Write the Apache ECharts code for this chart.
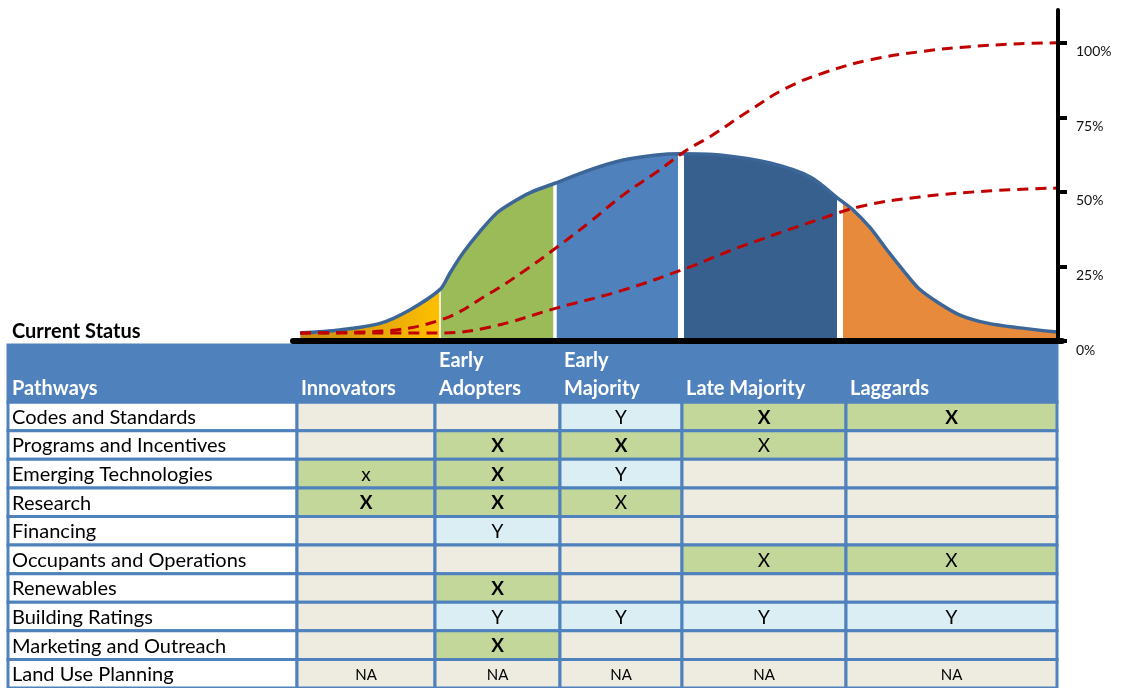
<!DOCTYPE html>
<html>
<head>
<meta charset="utf-8">
<script src="https://cdn.jsdelivr.net/npm/echarts@6/dist/echarts.min.js"></script>
<style>
  html, body { margin: 0; padding: 0; background: #fff; }
  #chart { width: 1122px; height: 688px; }
</style>
</head>
<body>
<div id="chart"></div>
<script>
// ---- Adoption curve: share of adopters along the timeline (x 0–100) ----
const adoptionCurve = [
  [0.3, 2.7], [5.5, 3.7], [10.8, 5.9], [14.7, 10.4], [18.7, 17.3],
  [20.0, 22.8], [21.7, 29.5], [23.9, 36.6], [26.2, 43.0], [28.3, 46.6],
  [30.5, 49.7], [33.8, 52.9], [38.4, 57.4], [42.8, 60.7], [47.2, 62.4],
  [50.3, 62.8], [55.5, 62.4], [62.1, 59.7], [67.4, 55.0], [71.3, 47.3],
  [73.0, 44.0], [75.3, 37.9], [77.5, 30.5], [79.6, 23.8], [81.6, 17.8],
  [84.1, 13.1], [87.1, 8.7], [90.7, 6.0], [95.0, 4.4], [99.9, 3.0]
];
// Where one adopter group hands over to the next
const groupBounds = [18.7, 33.8, 50.3, 71.3];
const groupNames = ['Innovators', 'Early Adopters', 'Early Majority', 'Late Majority', 'Laggards'];

// Cumulative adoption (%): full market and current status
const cumulativeFull = [
  [0.3, 2.7], [9.5, 3.1], [18.7, 7.0], [25.3, 16.1], [29.6, 23.2],
  [34.1, 31.5], [38.4, 39.9], [42.8, 49.0], [47.2, 56.7], [51.2, 64.1],
  [54.2, 68.5], [59.1, 76.8], [64.3, 84.9], [69.6, 90.3], [75.3, 94.3],
  [81.8, 97.0], [88.4, 98.7], [95.0, 99.7], [99.9, 100]
];
const cumulativeCurrent = [
  [0.3, 2.7], [18.7, 2.7], [25.3, 4.7], [34.1, 11.1], [42.8, 17.1],
  [51.2, 24.5], [57.8, 31.2], [68.7, 40.9], [74.3, 45.3], [81.8, 48.3],
  [90.7, 50.3], [99.9, 51.3]
];
const percentTicks = [0, 25, 50, 75, 100];

// ---- Pathway status table ----
const pathways = [
  'Codes and Standards', 'Programs and Incentives', 'Emerging Technologies',
  'Research', 'Financing', 'Occupants and Operations', 'Renewables',
  'Building Ratings', 'Marketing and Outreach', 'Land Use Planning'
];
const stageHeaders = ['Innovators', 'Early\nAdopters', 'Early\nMajority', 'Late Majority', 'Laggards'];
const statusMarks = [
  ['',   '',   'Y',  'X',  'X'],
  ['',   'X',  'X',  'X',  ''],
  ['x',  'X',  'Y',  '',   ''],
  ['X',  'X',  'X',  '',   ''],
  ['',   'Y',  '',   '',   ''],
  ['',   '',   '',   'X',  'X'],
  ['',   'X',  '',   '',   ''],
  ['',   'Y',  'Y',  'Y',  'Y'],
  ['',   'X',  '',   '',   ''],
  ['NA', 'NA', 'NA', 'NA', 'NA']
];
// 1 = strong activity (bold mark)
const strongMarks = [
  [0, 0, 0, 1, 1],
  [0, 1, 1, 0, 0],
  [0, 1, 0, 0, 0],
  [1, 1, 0, 0, 0],
  [0, 0, 0, 0, 0],
  [0, 0, 0, 0, 0],
  [0, 1, 0, 0, 0],
  [0, 0, 0, 0, 0],
  [0, 1, 0, 0, 0],
  [0, 0, 0, 0, 0]
];

// ---- layout & styles ----
const FONT = 'Lato';
const colWidths = [289, 138, 125, 122, 164, 211];
const colEdges = colWidths.reduce((acc, w) => { acc.push(acc[acc.length - 1] + w); return acc; }, [0]);
const tableWidth = colEdges[colEdges.length - 1];
const headerBlue = '#4F81BD';
const cellFill = { X: '#C4D79B', x: '#C4D79B', Y: '#DAEEF3' };
const cellEmpty = '#EEECE1';
const groupFills = [
  { type: 'linear', x: 0, y: 0, x2: 1, y2: 0,
    colorStops: [{ offset: 0, color: '#C48A14' }, { offset: 1, color: '#FFC000' }] },
  '#9BBB59', '#4F81BD', '#38608F', '#E88A3C'
];
const gapWidths = [1.5, 3.5, 6, 6];

const chart = echarts.init(document.getElementById('chart'), null, { renderer: 'canvas' });

const groupSeries = groupNames.map((name, i) => {
  const lo = i === 0 ? -Infinity : groupBounds[i - 1];
  const hi = i === groupNames.length - 1 ? Infinity : groupBounds[i];
  return {
    name, type: 'line', xAxisIndex: 0, yAxisIndex: 0,
    data: adoptionCurve.filter(p => p[0] >= lo && p[0] <= hi),
    smooth: 0.3, symbol: 'none', silent: true, z: 2,
    lineStyle: { width: 0 },
    areaStyle: { color: groupFills[i], opacity: 1 }
  };
});

// white separators between the groups
groupSeries[groupSeries.length - 1].markLine = {
  silent: true, symbol: 'none', z: 3, animation: false,
  label: { show: false },
  data: groupBounds.map((b, i) => {
    const top = adoptionCurve.find(p => p[0] === b)[1];
    return [
      { coord: [b, 0.8], lineStyle: { color: '#ffffff', width: gapWidths[i], type: 'solid' } },
      { coord: [b, top] }
    ];
  })
};

const tableItems = [];
for (let r = 0; r <= pathways.length; r++) {
  for (let c = 0; c <= stageHeaders.length; c++) tableItems.push([c, r]);
}

function renderCell(params, api) {
  const c = api.value(0), r = api.value(1);
  const top = r === 0 ? 0 : r + 1;
  const bottom = r === 0 ? 2 : r + 2;
  const p0 = api.coord([colEdges[c], top]);
  const p1 = api.coord([colEdges[c + 1], bottom]);
  const x = p0[0], y = p0[1], w = p1[0] - p0[0], h = p1[1] - p0[1];
  const children = [];
  if (r === 0) {
    children.push({ type: 'rect', shape: { x, y, width: w, height: h },
      style: { fill: headerBlue, stroke: headerBlue, lineWidth: 3 } });
    children.push({ type: 'text', style: {
      text: c === 0 ? 'Pathways' : stageHeaders[c - 1],
      x: x + 4, y: y + h + 1, align: 'left', verticalAlign: 'bottom', lineHeight: h / 2,
      fill: '#ffffff', fontSize: 20, fontWeight: 'bold', fontFamily: FONT } });
  } else if (c === 0) {
    children.push({ type: 'rect', shape: { x, y, width: w, height: h },
      style: { fill: '#ffffff', stroke: headerBlue, lineWidth: 3 } });
    children.push({ type: 'text', style: {
      text: pathways[r - 1], x: x + 4, y: y + h / 2 + 1, align: 'left', verticalAlign: 'middle',
      fill: '#000000', fontSize: 20, fontFamily: FONT } });
  } else {
    const mark = statusMarks[r - 1][c - 1];
    const strong = strongMarks[r - 1][c - 1] === 1;
    children.push({ type: 'rect', shape: { x, y, width: w, height: h },
      style: { fill: cellFill[mark] || cellEmpty, stroke: headerBlue, lineWidth: 3 } });
    if (mark) {
      children.push({ type: 'text', style: {
        text: mark, x: x + w / 2, y: y + h / 2 + 1, align: 'center', verticalAlign: 'middle',
        fill: '#000000', fontSize: mark === 'NA' ? 15 : 19,
        fontWeight: strong ? 'bold' : 'normal', fontFamily: FONT } });
    }
  }
  return { type: 'group', children };
}

chart.setOption({
  animation: false,
  backgroundColor: '#ffffff',
  title: {
    text: 'Current Status', left: 12, top: 322, padding: 0,
    textStyle: { fontSize: 20, fontWeight: 'bold', fontFamily: FONT, color: '#000000' }
  },
  grid: [
    { left: 293, right: 60, top: 10, bottom: 347 },
    { left: 8, top: 345, width: tableWidth, height: 344 }
  ],
  xAxis: [
    { type: 'value', gridIndex: 0, min: -0.66, max: 100.52, z: 8,
      axisLine: { show: true, onZero: false, lineStyle: { color: '#000000', width: 6 } },
      axisTick: { show: false }, axisLabel: { show: false }, splitLine: { show: false } },
    { type: 'value', gridIndex: 1, min: 0, max: tableWidth, show: false }
  ],
  yAxis: [
    { type: 'value', gridIndex: 0, position: 'right', offset: -4, min: 0, max: 111, z: 8,
      axisLine: { show: true, onZero: false, lineStyle: { color: '#000000', width: 4 } },
      axisTick: { show: true, length: 9, customValues: percentTicks,
        lineStyle: { color: '#000000', width: 4 } },
      axisLabel: { show: true, customValues: percentTicks, formatter: '{value}%',
        margin: 18, verticalAlign: 'top', padding: [2, 0, 0, 0],
        color: '#111111', fontSize: 14, fontFamily: FONT },
      splitLine: { show: false } },
    { type: 'value', gridIndex: 1, min: 0, max: 12, inverse: true, show: false }
  ],
  series: [
    ...groupSeries,
    {
      name: 'Adoption curve', type: 'line', xAxisIndex: 0, yAxisIndex: 0,
      data: adoptionCurve, smooth: 0.3, symbol: 'none', silent: true, z: 6,
      lineStyle: { color: '#3C6698', width: 3.5 }
    },
    {
      name: 'Full market', type: 'line', xAxisIndex: 0, yAxisIndex: 0,
      data: cumulativeFull, smooth: 0.4, symbol: 'none', silent: true, z: 7,
      lineStyle: { color: '#C00000', width: 3, type: [11, 7] }
    },
    {
      name: 'Current status', type: 'line', xAxisIndex: 0, yAxisIndex: 0,
      data: cumulativeCurrent, smooth: 0.4, symbol: 'none', silent: true, z: 7,
      lineStyle: { color: '#C00000', width: 3, type: [11, 7] }
    },
    {
      name: 'Pathways', type: 'custom', xAxisIndex: 1, yAxisIndex: 1,
      data: tableItems, renderItem: renderCell, silent: true, z: 1
    }
  ]
});
</script>
</body>
</html>
